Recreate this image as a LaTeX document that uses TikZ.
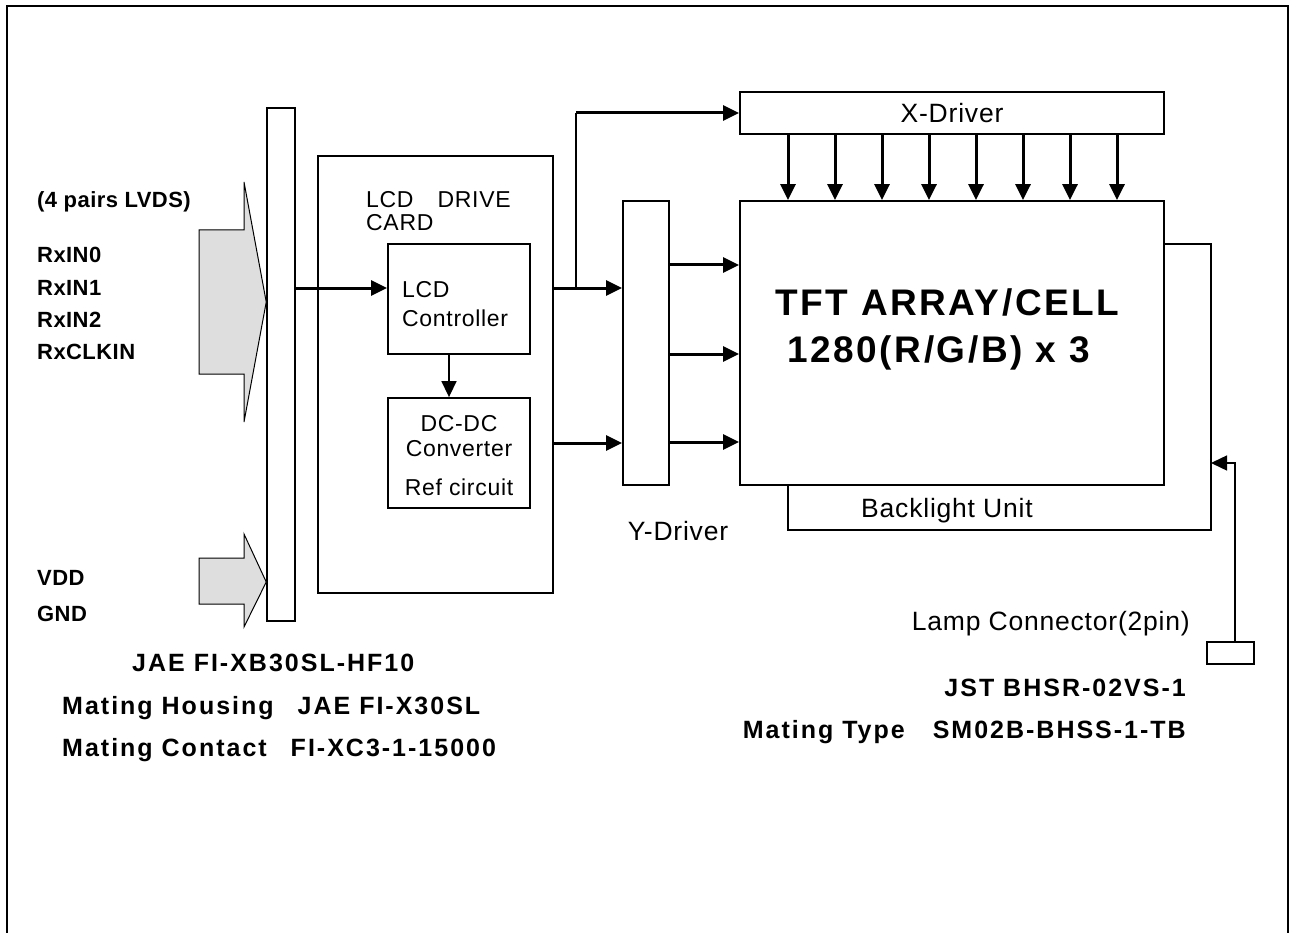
\documentclass[tikz,border=0pt]{standalone}
\usepackage{fontspec}
\setmainfont{Liberation Sans}
\newfontfamily\lblfont[LetterSpace=3]{Liberation Sans}
\newfontfamily\pinfont[LetterSpace=2]{Liberation Sans}
\newfontfamily\partfont[LetterSpace=8]{Liberation Sans}
\newfontfamily\tftfont[LetterSpace=7]{Liberation Sans}
\usetikzlibrary{arrows.meta,positioning}
\definecolor{arrowgray}{RGB}{222,222,222}
\tikzset{
  box/.style={draw, line width=1.8pt, inner sep=0pt},
  sig/.style={line width=3pt, ->},
  wire/.style={line width=1.5pt},
  bigarrow/.style={draw, line width=1pt, fill=arrowgray},
  lbl/.style={inner sep=0pt, font=\lblfont\fontsize{26.5}{30}\selectfont},
  cardtxt/.style={inner sep=0pt, font=\lblfont\fontsize{23}{26}\selectfont},
  pinlbl/.style={inner sep=0pt, anchor=base west, font=\pinfont\bfseries\fontsize{22}{24}\selectfont},
  partlbl/.style={inner sep=0pt, font=\partfont\bfseries\fontsize{25}{28}\selectfont},
  tftlbl/.style={inner sep=0pt, anchor=base west, font=\tftfont\bfseries\fontsize{37}{40}\selectfont}
}
\begin{document}
\begin{tikzpicture}[x=1pt, y=-1pt, >={Triangle[length=16pt,width=15pt]}]
\useasboundingbox (0,0) rectangle (1295,933);
% frame
\draw[line width=2.5pt] (7,933) -- (7,6) -- (1288,6) -- (1288,933);
% blocks
\node[box, line width=1.5pt, minimum width=28pt, minimum height=513pt] (conn) at (281,364.5) {};
\node[box, minimum width=235pt, minimum height=437pt] (card) at (435.5,374.5) {};
\node[box, minimum width=142pt, minimum height=110pt] (ctrl) at (459,299) {};
\node[box, minimum width=142pt, minimum height=110pt] (dcdc) at (459,453) {};
\node[box, minimum width=46pt, minimum height=284pt] (ydrv) at (646,343) {};
\node[box, minimum width=424pt, minimum height=284pt] (tft) at (952,343) {};
\node[box, lbl, minimum width=424pt, minimum height=42pt] (xdrv) at (952,113) {X-Driver};
\node[box, line width=1.5pt, minimum width=47pt, minimum height=22pt] (lamp) at (1230.5,653) {};
% input arrows
\filldraw[bigarrow] (199,230) -- (244,230) -- (244,182) -- (conn.west |- 0,302) -- (244,422) -- (244,374) -- (199,374) -- cycle;
\filldraw[bigarrow] (199,558) -- (244,558) -- (244,534) -- (conn.west |- 0,582) -- (244,627) -- (244,604) -- (199,604) -- cycle;
% signals
\draw[sig] (conn.east |- 0,288) -- (ctrl.west |- 0,288);
\draw[wire, ->] (ctrl.south -| 449,0) -- (dcdc.north -| 449,0);
\draw[sig] (card.east |- 0,288) -- (ydrv.west |- 0,288);
\draw[sig] (card.east |- 0,443) -- (ydrv.west |- 0,443);
\coordinate (split) at (576,288);
\draw[line width=2pt] (split) -- (split |- xdrv.west);
\draw[sig] (split |- xdrv.west) -- (xdrv.west);
\foreach \y in {265,354,442}
  \draw[sig] (ydrv.east |- 0,\y) -- (tft.west |- 0,\y);
\foreach \i in {0,...,7}{
  \pgfmathsetmacro\xx{788+47*\i}
  \draw[sig] (xdrv.south -| \xx,0) -- (tft.north -| \xx,0);
}
% backlight and lamp
\draw[wire] (tft.south -| 788,0) |- (1211,530) |- (tft.east |- 0,244);
\draw[wire, ->] (lamp.north -| 1235,0) |- (1211,463);
% labels
\node[cardtxt, anchor=base west] (cardlbl) at (366,208) {LCD\hspace{24pt}DRIVE};
\node[cardtxt, anchor=base west] (cardlbl2) at (366,231) {CARD};
\node[cardtxt, anchor=base west] (ctrllbl) at (402,298) {LCD};
\node[cardtxt, anchor=base west] (ctrllbl2) at (402,326) {Controller};
\node[cardtxt, anchor=base] (dcdclbl) at (459,431) {DC-DC};
\node[cardtxt, anchor=base] (dcdclbl2) at (459,456) {Converter};
\node[cardtxt, anchor=base] (dcdclbl3) at (459,495) {Ref circuit};
\node[lbl, anchor=base] (ydrvlbl) at (678,540) {Y-Driver};
\node[lbl, anchor=base] (bllbl) at (947,517) {Backlight Unit};
\node[lbl, anchor=base east] (lamplbl) at (1190,630) {Lamp Connector(2pin)};
\node[tftlbl] (tftlbl1) at (775,315) {TFT ARRAY/CELL};
\node[tftlbl] (tftlbl2) at (787,362) {1280(R/G/B) x 3};
\node[pinlbl] (lvds) at (37,208) {(4 pairs LVDS)};
\foreach \t/\y in {RxIN0/263, RxIN1/295, RxIN2/327, RxCLKIN/359, VDD/585, GND/621}
  \node[pinlbl] (pin\t) at (37,\y) {\t};
\node[partlbl, anchor=base west] (jae) at (132,671) {JAE FI-XB30SL-HF10};
\node[partlbl, anchor=base west] (housing) at (62,714) {Mating Housing\hspace{24pt}JAE FI-X30SL};
\node[partlbl, anchor=base west] (contact) at (62,756) {Mating Contact\hspace{24pt}FI-XC3-1-15000};
\node[partlbl, anchor=base east] (jst) at (1186,696) {JST BHSR-02VS-1};
\node[partlbl, anchor=base east] (matetype) at (1186,738) {Mating Type\hspace{28pt}SM02B-BHSS-1-TB};
\end{tikzpicture}
\end{document}
